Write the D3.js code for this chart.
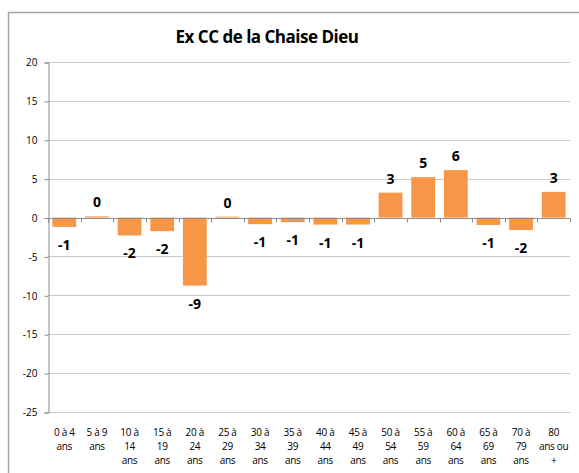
<!DOCTYPE html>
<html>
<head>
<meta charset="utf-8">
<script src="https://cdn.jsdelivr.net/npm/d3@7"></script>
<style>
  body { margin: 0; background: #fff; }
  svg { display: block; }
</style>
</head>
<body>
<svg id="chart" width="579" height="473"></svg>
<script>
// données
const ageGroups = [
  ['0 à 4', 'ans'], ['5 à 9', 'ans'], ['10 à', '14', 'ans'], ['15 à', '19', 'ans'],
  ['20 à', '24', 'ans'], ['25 à', '29', 'ans'], ['30 à', '34', 'ans'], ['35 à', '39', 'ans'],
  ['40 à', '44', 'ans'], ['45 à', '49', 'ans'], ['50 à', '54', 'ans'], ['55 à', '59', 'ans'],
  ['60 à', '64', 'ans'], ['65 à', '69', 'ans'], ['70 à', '79', 'ans'], ['80', 'ans ou', '+']
];
const values = [-1.2, 0.15, -2.3, -1.75, -8.75, 0.12, -0.85, -0.6, -0.9, -0.9, 3.2, 5.2, 6.1, -0.95, -1.6, 3.3];
const yTicks = [20, 15, 10, 5, 0, -5, -10, -15, -20, -25];
const title = 'Ex CC de la Chaise Dieu';

const svg = d3.select('#chart');
const font = "'Open Sans', sans-serif";
const plot = { left: 48, right: 570, top: 62, bottom: 412 };

// format avec un tiret simple (comme Excel)
const locale = d3.formatLocale({ decimal: ',', thousands: ' ', grouping: [3], currency: ['', '€'], minus: '-' });
const fmt = locale.format('.0f');

// cadre du graphique
svg.append('path')
  .attr('d', 'M8.5,480 V12.5 H590')
  .attr('fill', 'none')
  .attr('stroke', '#a6a6a6')
  .attr('stroke-width', 1.5);

svg.append('text')
  .attr('x', 267)
  .attr('y', 43)
  .attr('text-anchor', 'middle')
  .attr('font-family', font)
  .attr('font-weight', 'bold')
  .attr('font-size', 17)
  .attr('letter-spacing', -0.5)
  .text(title);

const x = d3.scaleBand()
  .domain(d3.range(values.length))
  .range([plot.left, plot.right])
  .paddingInner(0.27)
  .paddingOuter(0.135);

const xb = d3.scaleBand()
  .domain(d3.range(values.length))
  .range([plot.left, plot.right]);

const y = d3.scaleLinear()
  .domain([-25, 20])
  .range([plot.bottom, plot.top]);

// grille horizontale
svg.append('g')
  .selectAll('line')
  .data(yTicks)
  .join('line')
  .attr('x1', plot.left)
  .attr('x2', plot.right)
  .attr('y1', d => Math.round(y(d)) + 0.5)
  .attr('y2', d => Math.round(y(d)) + 0.5)
  .attr('stroke', '#c8c8c8')
  .attr('stroke-width', 1);

// axe vertical
const yAxis = svg.append('g')
  .attr('transform', `translate(${plot.left + 0.5},0.5)`)
  .call(d3.axisLeft(y).tickValues(yTicks).tickFormat(fmt).tickSize(4).tickPadding(7));
yAxis.select('.domain').attr('stroke', '#8c8c8c');
yAxis.selectAll('.tick line').attr('stroke', '#8c8c8c');
yAxis.selectAll('.tick text')
  .attr('font-family', font)
  .attr('font-size', 10)
  .attr('fill', '#000');

// barres
svg.append('g')
  .selectAll('rect')
  .data(values)
  .join('rect')
  .attr('x', (d, i) => x(i))
  .attr('width', x.bandwidth())
  .attr('y', d => y(Math.max(0, d)))
  .attr('height', d => Math.abs(y(d) - y(0)))
  .attr('fill', '#f79646');

// axe des catégories sur la ligne zéro
const xAxis = svg.append('g')
  .attr('transform', `translate(0,${Math.round(y(0)) + 0.5})`);
xAxis.append('line')
  .attr('x1', plot.left)
  .attr('x2', plot.right)
  .attr('stroke', '#8c8c8c');
xAxis.selectAll('.tk')
  .data(d3.range(values.length + 1))
  .join('line')
  .attr('class', 'tk')
  .attr('x1', i => Math.round(plot.left + i * xb.step()) + 0.5)
  .attr('x2', i => Math.round(plot.left + i * xb.step()) + 0.5)
  .attr('y1', 0)
  .attr('y2', 4)
  .attr('stroke', '#8c8c8c');

// étiquettes de valeur
svg.append('g')
  .selectAll('text')
  .data(values)
  .join('text')
  .attr('x', (d, i) => x(i) + x.bandwidth() / 2)
  .attr('y', d => d >= 0 ? y(d) - 9 : y(d) + 23)
  .attr('text-anchor', 'middle')
  .attr('font-family', font)
  .attr('font-weight', 'bold')
  .attr('font-size', 14)
  .attr('fill', '#000')
  .text(d => fmt(d));

// libellés des catégories
const labels = svg.append('g')
  .selectAll('text')
  .data(ageGroups)
  .join('text')
  .attr('x', (d, i) => xb(i) + xb.bandwidth() / 2)
  .attr('y', 436)
  .attr('text-anchor', 'middle')
  .attr('font-family', font)
  .attr('font-size', 10)
  .attr('letter-spacing', -0.3)
  .attr('fill', '#000');
labels.selectAll('tspan')
  .data(d => d)
  .join('tspan')
  .attr('x', function() { return this.parentNode.getAttribute('x'); })
  .attr('dy', (d, i) => i === 0 ? 0 : 13.8)
  .text(d => d);
</script>
</body>
</html>
